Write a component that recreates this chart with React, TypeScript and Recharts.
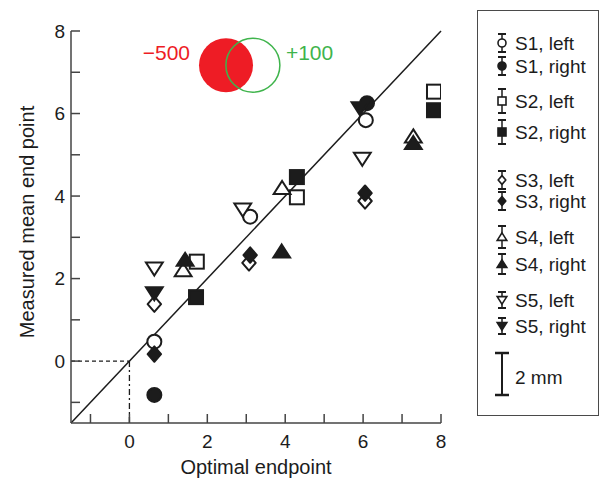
import React from 'react';
import { ScatterChart, Scatter, XAxis, YAxis, ReferenceLine, ReferenceDot, Legend } from 'recharts';

// mean end points per subject / hand
const s1Left = [{ x: 0.64, y: 0.47 }, { x: 3.1, y: 3.5 }, { x: 6.07, y: 5.84 }];
const s1Right = [{ x: 0.64, y: -0.82 }, { x: 6.1, y: 6.25 }];
const s2Left = [{ x: 1.73, y: 2.41 }, { x: 4.3, y: 3.97 }, { x: 7.82, y: 6.53 }];
const s2Right = [{ x: 1.71, y: 1.55 }, { x: 4.3, y: 4.46 }, { x: 7.82, y: 6.08 }];
const s3Left = [{ x: 0.64, y: 1.38 }, { x: 3.07, y: 2.38 }, { x: 6.05, y: 3.88 }];
const s3Right = [{ x: 0.64, y: 0.17 }, { x: 3.1, y: 2.57 }, { x: 6.05, y: 4.07 }];
const s4Left = [{ x: 1.38, y: 2.2 }, { x: 3.92, y: 4.19 }, { x: 7.29, y: 5.44 }];
const s4Right = [{ x: 1.43, y: 2.45 }, { x: 3.91, y: 2.65 }, { x: 7.29, y: 5.28 }];
const s5Left = [{ x: 0.64, y: 2.25 }, { x: 2.91, y: 3.68 }, { x: 5.98, y: 4.91 }];
const s5Right = [{ x: 0.64, y: 1.65 }, { x: 5.92, y: 6.13 }];

const xTicks = [-1, 0, 1, 2, 3, 4, 5, 6, 7, 8];
const yTicks = [-1, 0, 1, 2, 3, 4, 5, 6, 7, 8];
const axisDomain = [-1.5, 8];
const unityLine = [{ x: -1.5, y: -1.5 }, { x: 8, y: 8 }];

// the two tone circles at the top
const toneRed = { x: 2.48, y: 7.17, label: '\u2212500' };
const toneGreen = { x: 3.17, y: 7.17, label: '+100' };

const ink = '#1c1c1c';
const axisColor = '#444';
const red = '#ee1c25';
const green = '#3fb44c';
const font = '"Liberation Sans", Arial, Helvetica, sans-serif';

type Kind = 'circle' | 'square' | 'diamond' | 'up' | 'down';

const series = [
  { name: 'S1, left', data: s1Left, kind: 'circle' as Kind, filled: false },
  { name: 'S1, right', data: s1Right, kind: 'circle' as Kind, filled: true },
  { name: 'S2, left', data: s2Left, kind: 'square' as Kind, filled: false },
  { name: 'S2, right', data: s2Right, kind: 'square' as Kind, filled: true },
  { name: 'S3, left', data: s3Left, kind: 'diamond' as Kind, filled: false },
  { name: 'S3, right', data: s3Right, kind: 'diamond' as Kind, filled: true },
  { name: 'S4, left', data: s4Left, kind: 'up' as Kind, filled: false },
  { name: 'S4, right', data: s4Right, kind: 'up' as Kind, filled: true },
  { name: 'S5, left', data: s5Left, kind: 'down' as Kind, filled: false },
  { name: 'S5, right', data: s5Right, kind: 'down' as Kind, filled: true },
];

// legend rows: y inside the box and half length of the error bar glyph
const legendRows = [32, 55, 90, 121, 169, 190, 226, 253, 289, 315];
const legendBars = [9, 9, 12, 12, 9, 9, 11, 10, 8, 8];

const Marker = ({ kind, filled, cx, cy, size, sw = 2 }: any) => {
  const fill = filled ? ink : '#fff';
  const s = size;
  if (kind === 'circle') {
    return <circle cx={cx} cy={cy} r={s / 2} fill={fill} stroke={ink} strokeWidth={sw} />;
  }
  if (kind === 'square') {
    return <rect x={cx - s / 2} y={cy - s / 2} width={s} height={s} fill={fill} stroke={ink} strokeWidth={sw} />;
  }
  if (kind === 'diamond') {
    const w = s * 0.48, h = s * 0.55;
    return (
      <polygon
        points={`${cx},${cy - h} ${cx + w},${cy} ${cx},${cy + h} ${cx - w},${cy}`}
        fill={fill} stroke={ink} strokeWidth={sw} strokeLinejoin="round"
      />
    );
  }
  const w = s * 0.6, h = s * 0.52;
  const d = kind === 'up' ? 1 : -1;
  return (
    <polygon
      points={`${cx},${cy - d * h} ${cx + w},${cy + d * h * 0.8} ${cx - w},${cy + d * h * 0.8}`}
      fill={fill} stroke={ink} strokeWidth={sw} strokeLinejoin="miter"
    />
  );
};

const XTick = ({ x, y, payload }: any) => (
  <g>
    <line x1={x} y1={y} x2={x} y2={y - 9} stroke={axisColor} strokeWidth={1.5} />
    {payload.value % 2 === 0 && (
      <text x={x} y={y + 18} textAnchor="middle" dominantBaseline="central" fontSize={19} fill={ink}>
        {payload.value}
      </text>
    )}
  </g>
);

const YTick = ({ x, y, payload }: any) => (
  <g>
    <line x1={x} y1={y} x2={x + 9} y2={y} stroke={axisColor} strokeWidth={1.5} />
    {payload.value % 2 === 0 && (
      <text x={x - 6} y={y} textAnchor="end" dominantBaseline="central" fontSize={19} fill={ink}>
        {payload.value}
      </text>
    )}
  </g>
);

const YLabel = ({ viewBox }: any) => {
  const cx = 27;
  const cy = viewBox.y + viewBox.height / 2 - 5;
  return (
    <text x={cx} y={cy} transform={`rotate(-90, ${cx}, ${cy})`} textAnchor="middle" dominantBaseline="central" fontSize={20} fill={ink}>
      Measured mean end point
    </text>
  );
};

const XLabel = ({ viewBox }: any) => (
  <text x={viewBox.x + viewBox.width / 2} y={viewBox.y + 44} textAnchor="middle" dominantBaseline="central" fontSize={20} fill={ink}>
    Optimal endpoint
  </text>
);

const toneLabel = (text: string, color: string, side: 'left' | 'right') => ({ viewBox }: any) => {
  const cy = viewBox.y + viewBox.height / 2 - 13;
  const x = side === 'left' ? viewBox.x - 9 : viewBox.x + viewBox.width + 6;
  return (
    <text x={x} y={cy} textAnchor={side === 'left' ? 'end' : 'start'} dominantBaseline="central" fontSize={21} fill={color}>
      {text}
    </text>
  );
};

const LegendBox = () => (
  <div style={{ width: 122, height: 406, border: '1.5px solid #4a4a4a', boxSizing: 'border-box', background: '#fff' }}>
    <svg width={120} height={403} style={{ display: 'block' }}>
      {series.map((s, i) => {
        const cy = legendRows[i];
        const half = legendBars[i];
        return (
          <g key={s.name}>
            <line x1={24} y1={cy - half} x2={24} y2={cy + half} stroke={ink} strokeWidth={1.5} />
            <line x1={20} y1={cy - half} x2={28} y2={cy - half} stroke={ink} strokeWidth={2} />
            <line x1={20} y1={cy + half} x2={28} y2={cy + half} stroke={ink} strokeWidth={2} />
            <Marker kind={s.kind} filled={s.filled} cx={24} cy={cy} size={8} sw={1.6} />
            <text x={37} y={cy} dominantBaseline="central" fontSize={19} fill={ink}>{s.name}</text>
          </g>
        );
      })}
      <line x1={24} y1={342} x2={24} y2={384} stroke={ink} strokeWidth={2} />
      <line x1={17} y1={342} x2={31} y2={342} stroke={ink} strokeWidth={2.5} />
      <line x1={17} y1={384} x2={31} y2={384} stroke={ink} strokeWidth={2.5} />
      <text x={37} y={366} dominantBaseline="central" fontSize={19} fill={ink}>2 mm</text>
    </svg>
  </div>
);

export default function App() {
  return (
    <div style={{ position: 'absolute', left: 0, top: 0, width: 608, height: 483, background: '#fff', fontFamily: font }}>
      <ScatterChart width={608} height={483} margin={{ top: 31, right: 167, bottom: 0, left: 0 }}>
        <XAxis
          type="number" dataKey="x" domain={axisDomain} ticks={xTicks} interval={0}
          allowDataOverflow height={60} tickSize={0} tickMargin={0} tickLine={false}
          axisLine={{ stroke: axisColor, strokeWidth: 1.5 }} tick={<XTick />}
          label={{ content: <XLabel /> }}
        />
        <YAxis
          type="number" dataKey="y" domain={axisDomain} ticks={yTicks} interval={0}
          allowDataOverflow width={71} tickSize={0} tickMargin={0} tickLine={false}
          axisLine={{ stroke: axisColor, strokeWidth: 1.5 }} tick={<YTick />}
          label={{ content: <YLabel /> }}
        />
        <ReferenceLine segment={unityLine} stroke={ink} strokeWidth={1.5} ifOverflow="visible" />
        <ReferenceLine segment={[{ x: -1.5, y: 0 }, { x: 0, y: 0 }]} stroke={ink} strokeWidth={1.3} strokeDasharray="4 3" />
        <ReferenceLine segment={[{ x: 0, y: -1.5 }, { x: 0, y: 0 }]} stroke={ink} strokeWidth={1.3} strokeDasharray="6 3 2 3" />
        <ReferenceDot
          x={toneRed.x} y={toneRed.y} r={27} fill={red} stroke="none"
          label={{ content: toneLabel(toneRed.label, red, 'left') }}
        />
        <ReferenceDot
          x={toneGreen.x} y={toneGreen.y} r={27} fill="none" stroke={green} strokeWidth={1.5}
          label={{ content: toneLabel(toneGreen.label, green, 'right') }}
        />
        {series.map((s) => (
          <Scatter
            key={s.name} name={s.name} data={s.data} isAnimationActive={false}
            shape={(p: any) => <Marker kind={s.kind} filled={s.filled} cx={p.cx} cy={p.cy} size={14} />}
          />
        ))}
        <Legend
          layout="horizontal" verticalAlign="middle" align="center"
          wrapperStyle={{ position: 'absolute', left: 477, top: 10, width: 122, height: 406 }}
          content={<LegendBox />}
        />
      </ScatterChart>
    </div>
  );
}
